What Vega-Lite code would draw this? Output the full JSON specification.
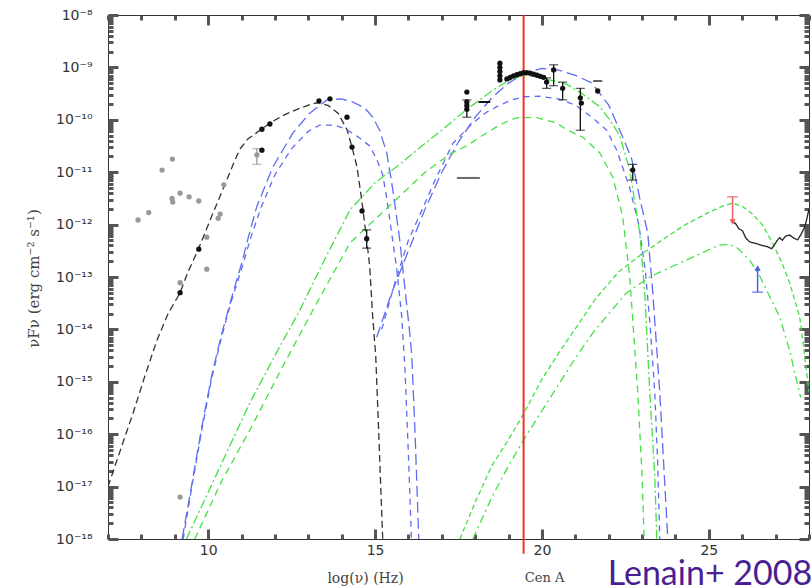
{
  "$schema": "https://vega.github.io/schema/vega-lite/v6.json",
  "width": 701,
  "height": 524,
  "autosize": {"type": "none"},
  "padding": {"left": 108, "top": 15, "right": 2, "bottom": 47},
  "background": "white",
  "config": {
    "view": {"stroke": "#333", "strokeWidth": 1},
    "axis": {"domain": false, "zindex": 1, "labelColor": "#333", "labelFont": "DejaVu Sans", "labelFontSize": 14, "titleFont": "DejaVu Serif", "titleFontWeight": "normal", "titleFontSize": 14, "titleColor": "#444", "grid": false, "labelFlush": false, "labelOverlap": false, "labelBound": false}
  },
  "datasets": {
    "curves": [
      {"c": "black_sync", "x": 7.0, "y": -17.0}, {"c": "black_sync", "x": 7.4, "y": -16.25}, {"c": "black_sync", "x": 7.75, "y": -15.6}, {"c": "black_sync", "x": 8.1, "y": -14.9}, {"c": "black_sync", "x": 8.47, "y": -14.2}, {"c": "black_sync", "x": 8.8, "y": -13.7}, {"c": "black_sync", "x": 9.16, "y": -13.3}, {"c": "black_sync", "x": 9.4, "y": -12.9}, {"c": "black_sync", "x": 9.7, "y": -12.48}, {"c": "black_sync", "x": 10.1, "y": -11.85}, {"c": "black_sync", "x": 10.5, "y": -11.24}, {"c": "black_sync", "x": 10.75, "y": -10.85}, {"c": "black_sync", "x": 10.95, "y": -10.56}, {"c": "black_sync", "x": 11.2, "y": -10.36}, {"c": "black_sync", "x": 11.6, "y": -10.18}, {"c": "black_sync", "x": 11.85, "y": -10.06}, {"c": "black_sync", "x": 12.3, "y": -9.9}, {"c": "black_sync", "x": 12.75, "y": -9.78}, {"c": "black_sync", "x": 13.1, "y": -9.7}, {"c": "black_sync", "x": 13.3, "y": -9.67}, {"c": "black_sync", "x": 13.6, "y": -9.73}, {"c": "black_sync", "x": 13.9, "y": -9.88}, {"c": "black_sync", "x": 14.16, "y": -10.19}, {"c": "black_sync", "x": 14.31, "y": -10.52}, {"c": "black_sync", "x": 14.46, "y": -10.9}, {"c": "black_sync", "x": 14.6, "y": -11.53}, {"c": "black_sync", "x": 14.75, "y": -12.29}, {"c": "black_sync", "x": 14.84, "y": -12.8}, {"c": "black_sync", "x": 14.93, "y": -13.76}, {"c": "black_sync", "x": 15.02, "y": -14.5}, {"c": "black_sync", "x": 15.1, "y": -15.8}, {"c": "black_sync", "x": 15.17, "y": -17.0}, {"c": "black_sync", "x": 15.23, "y": -18.0},

      {"c": "blue_s1", "x": 9.22, "y": -18.0}, {"c": "blue_s1", "x": 9.5, "y": -17.0}, {"c": "blue_s1", "x": 9.8, "y": -15.9}, {"c": "blue_s1", "x": 10.1, "y": -14.9}, {"c": "blue_s1", "x": 10.4, "y": -14.1}, {"c": "blue_s1", "x": 10.7, "y": -13.4}, {"c": "blue_s1", "x": 11.0, "y": -12.75}, {"c": "blue_s1", "x": 11.2, "y": -12.25}, {"c": "blue_s1", "x": 11.46, "y": -11.65}, {"c": "blue_s1", "x": 11.94, "y": -10.9}, {"c": "blue_s1", "x": 12.54, "y": -10.25}, {"c": "blue_s1", "x": 13.05, "y": -9.87}, {"c": "blue_s1", "x": 13.56, "y": -9.62}, {"c": "blue_s1", "x": 14.0, "y": -9.6}, {"c": "blue_s1", "x": 14.34, "y": -9.66}, {"c": "blue_s1", "x": 14.7, "y": -9.78}, {"c": "blue_s1", "x": 14.93, "y": -9.95}, {"c": "blue_s1", "x": 15.14, "y": -10.2}, {"c": "blue_s1", "x": 15.35, "y": -10.63}, {"c": "blue_s1", "x": 15.5, "y": -11.2}, {"c": "blue_s1", "x": 15.59, "y": -11.6}, {"c": "blue_s1", "x": 15.74, "y": -12.29}, {"c": "blue_s1", "x": 15.89, "y": -13.19}, {"c": "blue_s1", "x": 16.04, "y": -14.07}, {"c": "blue_s1", "x": 16.1, "y": -14.5}, {"c": "blue_s1", "x": 16.2, "y": -16.0}, {"c": "blue_s1", "x": 16.31, "y": -18.0},

      {"c": "blue_s2", "x": 9.25, "y": -18.0}, {"c": "blue_s2", "x": 9.5, "y": -17.05}, {"c": "blue_s2", "x": 9.8, "y": -15.95}, {"c": "blue_s2", "x": 10.1, "y": -14.95}, {"c": "blue_s2", "x": 10.4, "y": -14.15}, {"c": "blue_s2", "x": 10.7, "y": -13.45}, {"c": "blue_s2", "x": 11.0, "y": -12.85}, {"c": "blue_s2", "x": 11.3, "y": -12.2}, {"c": "blue_s2", "x": 11.6, "y": -11.65}, {"c": "blue_s2", "x": 12.0, "y": -11.05}, {"c": "blue_s2", "x": 12.5, "y": -10.55}, {"c": "blue_s2", "x": 13.0, "y": -10.22}, {"c": "blue_s2", "x": 13.35, "y": -10.1}, {"c": "blue_s2", "x": 13.8, "y": -10.1}, {"c": "blue_s2", "x": 14.16, "y": -10.19}, {"c": "blue_s2", "x": 14.5, "y": -10.33}, {"c": "blue_s2", "x": 14.84, "y": -10.5}, {"c": "blue_s2", "x": 15.05, "y": -10.75}, {"c": "blue_s2", "x": 15.23, "y": -11.05}, {"c": "blue_s2", "x": 15.35, "y": -11.5}, {"c": "blue_s2", "x": 15.44, "y": -11.9}, {"c": "blue_s2", "x": 15.55, "y": -12.4}, {"c": "blue_s2", "x": 15.65, "y": -12.85}, {"c": "blue_s2", "x": 15.8, "y": -13.76}, {"c": "blue_s2", "x": 15.9, "y": -14.8}, {"c": "blue_s2", "x": 16.0, "y": -16.4}, {"c": "blue_s2", "x": 16.09, "y": -18.0},

      {"c": "blue_ic1", "x": 15.05, "y": -14.15}, {"c": "blue_ic1", "x": 15.5, "y": -13.3}, {"c": "blue_ic1", "x": 16.0, "y": -12.5}, {"c": "blue_ic1", "x": 16.5, "y": -11.7}, {"c": "blue_ic1", "x": 17.0, "y": -11.0}, {"c": "blue_ic1", "x": 17.5, "y": -10.42}, {"c": "blue_ic1", "x": 18.0, "y": -9.95}, {"c": "blue_ic1", "x": 18.5, "y": -9.58}, {"c": "blue_ic1", "x": 19.0, "y": -9.3}, {"c": "blue_ic1", "x": 19.5, "y": -9.1}, {"c": "blue_ic1", "x": 20.0, "y": -9.02}, {"c": "blue_ic1", "x": 20.5, "y": -9.05}, {"c": "blue_ic1", "x": 21.0, "y": -9.15}, {"c": "blue_ic1", "x": 21.5, "y": -9.3}, {"c": "blue_ic1", "x": 22.0, "y": -9.72}, {"c": "blue_ic1", "x": 22.4, "y": -10.3}, {"c": "blue_ic1", "x": 22.69, "y": -10.75}, {"c": "blue_ic1", "x": 22.93, "y": -11.5}, {"c": "blue_ic1", "x": 23.17, "y": -12.16}, {"c": "blue_ic1", "x": 23.32, "y": -13.3}, {"c": "blue_ic1", "x": 23.53, "y": -15.2}, {"c": "blue_ic1", "x": 23.65, "y": -16.6}, {"c": "blue_ic1", "x": 23.77, "y": -18.0},

      {"c": "blue_ic2", "x": 15.2, "y": -14.0}, {"c": "blue_ic2", "x": 15.6, "y": -13.1}, {"c": "blue_ic2", "x": 16.0, "y": -12.3}, {"c": "blue_ic2", "x": 16.35, "y": -11.8}, {"c": "blue_ic2", "x": 16.8, "y": -11.15}, {"c": "blue_ic2", "x": 17.33, "y": -10.45}, {"c": "blue_ic2", "x": 17.93, "y": -10.06}, {"c": "blue_ic2", "x": 18.35, "y": -9.85}, {"c": "blue_ic2", "x": 18.74, "y": -9.72}, {"c": "blue_ic2", "x": 19.1, "y": -9.62}, {"c": "blue_ic2", "x": 19.45, "y": -9.56}, {"c": "blue_ic2", "x": 19.9, "y": -9.55}, {"c": "blue_ic2", "x": 20.5, "y": -9.6}, {"c": "blue_ic2", "x": 21.0, "y": -9.72}, {"c": "blue_ic2", "x": 21.5, "y": -9.95}, {"c": "blue_ic2", "x": 21.94, "y": -10.2}, {"c": "blue_ic2", "x": 22.24, "y": -10.58}, {"c": "blue_ic2", "x": 22.63, "y": -11.3}, {"c": "blue_ic2", "x": 22.9, "y": -12.0}, {"c": "blue_ic2", "x": 23.1, "y": -12.9}, {"c": "blue_ic2", "x": 23.25, "y": -14.0}, {"c": "blue_ic2", "x": 23.38, "y": -15.2}, {"c": "blue_ic2", "x": 23.47, "y": -16.6}, {"c": "blue_ic2", "x": 23.53, "y": -18.0},

      {"c": "green_1", "x": 9.35, "y": -18.0}, {"c": "green_1", "x": 10.3, "y": -16.7}, {"c": "green_1", "x": 11.25, "y": -15.4}, {"c": "green_1", "x": 12.0, "y": -14.5}, {"c": "green_1", "x": 12.75, "y": -13.63}, {"c": "green_1", "x": 13.5, "y": -12.65}, {"c": "green_1", "x": 14.25, "y": -11.72}, {"c": "green_1", "x": 15.0, "y": -11.2}, {"c": "green_1", "x": 15.74, "y": -10.85}, {"c": "green_1", "x": 16.4, "y": -10.5}, {"c": "green_1", "x": 17.0, "y": -10.2}, {"c": "green_1", "x": 17.75, "y": -9.8}, {"c": "green_1", "x": 18.5, "y": -9.45}, {"c": "green_1", "x": 19.0, "y": -9.25}, {"c": "green_1", "x": 19.43, "y": -9.15}, {"c": "green_1", "x": 19.9, "y": -9.18}, {"c": "green_1", "x": 20.23, "y": -9.24}, {"c": "green_1", "x": 20.74, "y": -9.32}, {"c": "green_1", "x": 21.2, "y": -9.5}, {"c": "green_1", "x": 21.73, "y": -9.75}, {"c": "green_1", "x": 22.03, "y": -10.0}, {"c": "green_1", "x": 22.33, "y": -10.3}, {"c": "green_1", "x": 22.63, "y": -10.96}, {"c": "green_1", "x": 22.93, "y": -12.16}, {"c": "green_1", "x": 23.08, "y": -13.3}, {"c": "green_1", "x": 23.23, "y": -15.2}, {"c": "green_1", "x": 23.38, "y": -16.8}, {"c": "green_1", "x": 23.44, "y": -18.0},

      {"c": "green_2", "x": 9.6, "y": -18.0}, {"c": "green_2", "x": 10.4, "y": -16.9}, {"c": "green_2", "x": 11.25, "y": -15.92}, {"c": "green_2", "x": 12.2, "y": -14.75}, {"c": "green_2", "x": 13.14, "y": -13.63}, {"c": "green_2", "x": 14.25, "y": -12.35}, {"c": "green_2", "x": 15.0, "y": -11.9}, {"c": "green_2", "x": 15.75, "y": -11.45}, {"c": "green_2", "x": 16.5, "y": -11.0}, {"c": "green_2", "x": 17.25, "y": -10.65}, {"c": "green_2", "x": 17.74, "y": -10.5}, {"c": "green_2", "x": 18.14, "y": -10.33}, {"c": "green_2", "x": 18.6, "y": -10.15}, {"c": "green_2", "x": 19.04, "y": -10.0}, {"c": "green_2", "x": 19.3, "y": -9.96}, {"c": "green_2", "x": 19.84, "y": -9.96}, {"c": "green_2", "x": 20.44, "y": -10.06}, {"c": "green_2", "x": 20.74, "y": -10.19}, {"c": "green_2", "x": 21.22, "y": -10.33}, {"c": "green_2", "x": 21.73, "y": -10.63}, {"c": "green_2", "x": 22.12, "y": -11.09}, {"c": "green_2", "x": 22.42, "y": -11.85}, {"c": "green_2", "x": 22.63, "y": -13.0}, {"c": "green_2", "x": 22.87, "y": -15.2}, {"c": "green_2", "x": 23.0, "y": -16.8}, {"c": "green_2", "x": 23.06, "y": -18.0},

      {"c": "green_3", "x": 17.54, "y": -18.0}, {"c": "green_3", "x": 18.0, "y": -17.3}, {"c": "green_3", "x": 18.5, "y": -16.6}, {"c": "green_3", "x": 19.0, "y": -16.1}, {"c": "green_3", "x": 19.46, "y": -15.6}, {"c": "green_3", "x": 20.0, "y": -14.95}, {"c": "green_3", "x": 20.53, "y": -14.42}, {"c": "green_3", "x": 21.04, "y": -13.95}, {"c": "green_3", "x": 21.6, "y": -13.42}, {"c": "green_3", "x": 22.3, "y": -12.9}, {"c": "green_3", "x": 23.02, "y": -12.55}, {"c": "green_3", "x": 23.7, "y": -12.25}, {"c": "green_3", "x": 24.3, "y": -12.0}, {"c": "green_3", "x": 25.02, "y": -11.76}, {"c": "green_3", "x": 25.4, "y": -11.65}, {"c": "green_3", "x": 25.71, "y": -11.59}, {"c": "green_3", "x": 26.0, "y": -11.65}, {"c": "green_3", "x": 26.31, "y": -11.8}, {"c": "green_3", "x": 26.6, "y": -12.0}, {"c": "green_3", "x": 26.91, "y": -12.35}, {"c": "green_3", "x": 27.2, "y": -12.75}, {"c": "green_3", "x": 27.42, "y": -13.11}, {"c": "green_3", "x": 27.72, "y": -13.76}, {"c": "green_3", "x": 27.85, "y": -14.4}, {"c": "green_3", "x": 28.0, "y": -15.2},

      {"c": "green_4", "x": 17.93, "y": -18.0}, {"c": "green_4", "x": 18.5, "y": -17.2}, {"c": "green_4", "x": 19.0, "y": -16.6}, {"c": "green_4", "x": 19.46, "y": -16.1}, {"c": "green_4", "x": 20.0, "y": -15.55}, {"c": "green_4", "x": 20.53, "y": -15.02}, {"c": "green_4", "x": 21.0, "y": -14.55}, {"c": "green_4", "x": 21.52, "y": -14.07}, {"c": "green_4", "x": 22.0, "y": -13.7}, {"c": "green_4", "x": 22.54, "y": -13.3}, {"c": "green_4", "x": 23.23, "y": -13.0}, {"c": "green_4", "x": 23.9, "y": -12.8}, {"c": "green_4", "x": 24.52, "y": -12.62}, {"c": "green_4", "x": 25.0, "y": -12.48}, {"c": "green_4", "x": 25.32, "y": -12.39}, {"c": "green_4", "x": 25.6, "y": -12.38}, {"c": "green_4", "x": 25.83, "y": -12.43}, {"c": "green_4", "x": 26.22, "y": -12.68}, {"c": "green_4", "x": 26.5, "y": -12.95}, {"c": "green_4", "x": 26.73, "y": -13.25}, {"c": "green_4", "x": 27.12, "y": -13.76}, {"c": "green_4", "x": 27.42, "y": -14.4}, {"c": "green_4", "x": 27.6, "y": -14.9}, {"c": "green_4", "x": 27.75, "y": -15.3},

      {"c": "black_cta", "x": 25.71, "y": -11.95}, {"c": "black_cta", "x": 25.8, "y": -11.98}, {"c": "black_cta", "x": 25.9, "y": -12.08}, {"c": "black_cta", "x": 26.01, "y": -12.12}, {"c": "black_cta", "x": 26.1, "y": -12.25}, {"c": "black_cta", "x": 26.22, "y": -12.33}, {"c": "black_cta", "x": 26.4, "y": -12.36}, {"c": "black_cta", "x": 26.61, "y": -12.4}, {"c": "black_cta", "x": 26.75, "y": -12.42}, {"c": "black_cta", "x": 26.88, "y": -12.46}, {"c": "black_cta", "x": 26.95, "y": -12.4}, {"c": "black_cta", "x": 27.05, "y": -12.3}, {"c": "black_cta", "x": 27.12, "y": -12.25}, {"c": "black_cta", "x": 27.2, "y": -12.3}, {"c": "black_cta", "x": 27.3, "y": -12.22}, {"c": "black_cta", "x": 27.42, "y": -12.2}, {"c": "black_cta", "x": 27.55, "y": -12.26}, {"c": "black_cta", "x": 27.66, "y": -12.29}, {"c": "black_cta", "x": 27.75, "y": -12.2}, {"c": "black_cta", "x": 27.87, "y": -12.05}, {"c": "black_cta", "x": 27.95, "y": -11.85}, {"c": "black_cta", "x": 28.0, "y": -11.7}
    ],
    "pts": [
      {"k": "gray", "x": 7.9, "y": -11.91}, {"k": "gray", "x": 8.22, "y": -11.77}, {"k": "gray", "x": 8.62, "y": -10.96}, {"k": "gray", "x": 8.93, "y": -10.75}, {"k": "gray", "x": 8.92, "y": -11.5}, {"k": "gray", "x": 8.94, "y": -11.57}, {"k": "gray", "x": 9.16, "y": -11.4}, {"k": "gray", "x": 9.43, "y": -11.47}, {"k": "gray", "x": 9.72, "y": -11.55}, {"k": "gray", "x": 10.47, "y": -11.24}, {"k": "gray", "x": 10.3, "y": -11.88}, {"k": "gray", "x": 10.36, "y": -11.8}, {"k": "gray", "x": 9.96, "y": -12.24}, {"k": "gray", "x": 9.96, "y": -12.85}, {"k": "gray", "x": 9.16, "y": -13.11}, {"k": "gray", "x": 9.16, "y": -17.2}, {"k": "gray", "x": 11.46, "y": -10.67},
      {"k": "black", "x": 9.16, "y": -13.3}, {"k": "black", "x": 9.72, "y": -12.47}, {"k": "black", "x": 11.61, "y": -10.18}, {"k": "black", "x": 11.85, "y": -10.08}, {"k": "black", "x": 11.61, "y": -10.58}, {"k": "black", "x": 13.32, "y": -9.64}, {"k": "black", "x": 13.65, "y": -9.6}, {"k": "black", "x": 14.16, "y": -9.95}, {"k": "black", "x": 14.31, "y": -10.52}, {"k": "black", "x": 14.61, "y": -11.74}, {"k": "black", "x": 14.75, "y": -12.27},
      {"k": "black", "x": 17.75, "y": -9.47}, {"k": "black", "x": 17.75, "y": -9.66}, {"k": "black", "x": 17.75, "y": -9.73}, {"k": "black", "x": 17.75, "y": -9.8},
      {"k": "black", "x": 18.74, "y": -8.92}, {"k": "black", "x": 18.74, "y": -9.0}, {"k": "black", "x": 18.74, "y": -9.08}, {"k": "black", "x": 18.74, "y": -9.16}, {"k": "black", "x": 18.74, "y": -9.24},
      {"k": "black", "x": 18.95, "y": -9.22}, {"k": "black", "x": 19.05, "y": -9.19}, {"k": "black", "x": 19.15, "y": -9.16}, {"k": "black", "x": 19.25, "y": -9.14}, {"k": "black", "x": 19.35, "y": -9.12}, {"k": "black", "x": 19.45, "y": -9.1}, {"k": "black", "x": 19.55, "y": -9.1}, {"k": "black", "x": 19.65, "y": -9.11}, {"k": "black", "x": 19.75, "y": -9.13}, {"k": "black", "x": 19.85, "y": -9.15}, {"k": "black", "x": 19.95, "y": -9.17}, {"k": "black", "x": 20.05, "y": -9.19},
      {"k": "black", "x": 20.14, "y": -9.28}, {"k": "black", "x": 20.35, "y": -9.05}, {"k": "black", "x": 20.62, "y": -9.4}, {"k": "black", "x": 21.15, "y": -9.58}, {"k": "black", "x": 21.18, "y": -9.68}, {"k": "black", "x": 21.67, "y": -9.45}, {"k": "black", "x": 22.72, "y": -10.96}
    ],
    "err": [
      {"k": "gray", "x": 11.46, "y": -10.55, "y2": -10.85},
      {"k": "black", "x": 14.75, "y": -12.1, "y2": -12.45},
      {"k": "black", "x": 17.75, "y": -9.62, "y2": -9.95},
      {"k": "black", "x": 20.14, "y": -9.2, "y2": -9.4},
      {"k": "black", "x": 20.35, "y": -8.95, "y2": -9.35},
      {"k": "black", "x": 20.62, "y": -9.28, "y2": -9.62},
      {"k": "black", "x": 21.15, "y": -9.4, "y2": -10.2},
      {"k": "black", "x": 21.67, "y": -9.26, "y2": -9.26},
      {"k": "black", "x": 22.72, "y": -10.85, "y2": -11.15}
    ],
    "hbar": [
      {"k": "gray", "x": 17.45, "x2": 18.14, "y": -11.11},
      {"k": "black", "x": 18.1, "x2": 18.45, "y": -9.66}
    ],
    "vline": [{"x": 19.45, "y": -8.0, "y2": -18.28}],
    "lims": [
      {"k": "upper", "x": 25.71, "y": -11.47, "y2": -11.95},
      {"k": "lower", "x": 26.46, "y": -13.29, "y2": -12.83}
    ],
    "notes": [
      {"t": "Cen A", "x": 20.08, "y": -18.74}
    ],
    "credit": [
      {"t": "Lenain+ 2008", "x": 21.97, "y": -18.88}
    ]
  },
  "resolve": {"axis": {"x": "independent", "y": "independent"}, "scale": {"color": "independent", "shape": "independent", "strokeDash": "independent"}},
  "layer": [
    {
      "data": {"name": "curves"},
      "mark": {"type": "line", "strokeWidth": 1.3, "clip": true, "strokeCap": "butt"},
      "encoding": {
        "x": {"field": "x", "type": "quantitative", "scale": {"domain": [7, 28], "nice": false, "zero": false},
          "axis": {"orient": "bottom", "values": [10, 15, 20, 25], "offset": -10, "ticks": true, "tickSize": 10, "tickColor": "#555555", "tickWidth": 3, "tickOpacity": 1, "labelPadding": 4,
            "title": "log(ν) (Hz)", "titleX": 257, "titleY": 49, "titleAlign": "center", "titleBaseline": "middle", "titleFontSize": 14}},
        "y": {"field": "y", "type": "quantitative", "scale": {"domain": [-18, -8], "nice": false, "zero": false},
          "axis": {"orient": "left", "values": [-18,-17,-16,-15,-14,-13,-12,-11,-10,-9,-8], "offset": -10, "ticks": true, "tickSize": 10, "tickColor": "#555555", "tickWidth": 3, "tickOpacity": 1, "labelPadding": 16,
            "labelExpr": "datum.value == -8 ? '10⁻⁸' : datum.value == -9 ? '10⁻⁹' : datum.value == -10 ? '10⁻¹⁰' : datum.value == -11 ? '10⁻¹¹' : datum.value == -12 ? '10⁻¹²' : datum.value == -13 ? '10⁻¹³' : datum.value == -14 ? '10⁻¹⁴' : datum.value == -15 ? '10⁻¹⁵' : datum.value == -16 ? '10⁻¹⁶' : datum.value == -17 ? '10⁻¹⁷' : '10⁻¹⁸'",
            "title": "νFν (erg cm⁻² s⁻¹)", "titleX": -85, "titleY": 263, "titleAlign": "center", "titleBaseline": "middle", "titleFontSize": 15}},
        "color": {"field": "c", "type": "nominal", "legend": null,
          "scale": {"domain": ["black_sync","blue_s1","blue_s2","blue_ic1","blue_ic2","green_1","green_2","green_3","green_4","black_cta"],
                    "range": ["#333333","#5d6cf2","#5d6cf2","#5d6cf2","#5d6cf2","#44e044","#44e044","#44e044","#44e044","#222222"]}},
        "strokeDash": {"field": "c", "type": "nominal", "legend": null,
          "scale": {"domain": ["black_sync","blue_s1","blue_s2","blue_ic1","blue_ic2","green_1","green_2","green_3","green_4","black_cta"],
                    "range": [[7,4],[11,5],[6,5],[11,5],[6,5],[9,3,2,3],[7,5],[5,3],[8,4,2,4],[1,0]]}},
        "detail": {"field": "c"}
      }
    },
    {
      "data": {"name": "vline"},
      "mark": {"type": "rule", "color": "#ee3322", "strokeWidth": 2},
      "encoding": {
        "x": {"field": "x", "type": "quantitative", "scale": {"domain": [7, 28], "nice": false, "zero": false},
          "axis": {"orient": "top", "values": [10, 15, 20, 25], "labels": false, "title": null, "offset": -10, "ticks": true, "tickSize": 10, "tickColor": "#555555", "tickWidth": 3, "tickOpacity": 1}},
        "y": {"field": "y", "type": "quantitative", "scale": {"domain": [-18, -8], "nice": false, "zero": false},
          "axis": {"orient": "right", "values": [-18,-17,-16,-15,-14,-13,-12,-11,-10,-9,-8], "labels": false, "title": null, "offset": -10, "ticks": true, "tickSize": 10, "tickColor": "#555555", "tickWidth": 3, "tickOpacity": 1}},
        "y2": {"field": "y2"}
      }
    },
    {
      "data": {"name": "vline"},
      "mark": {"type": "rule", "color": "#ffffff", "strokeWidth": 0},
      "encoding": {
        "x": {"field": "x", "type": "quantitative", "scale": {"domain": [7, 28], "nice": false, "zero": false},
          "axis": {"orient": "bottom", "values": [7,8,9,11,12,13,14,16,17,18,19,21,22,23,24,26,27,28], "labels": false, "title": null, "offset": -5, "ticks": true, "tickSize": 5, "tickColor": "#555555", "tickWidth": 3, "tickOpacity": 1}},
        "y": {"field": "y", "type": "quantitative", "scale": {"domain": [-18, -8], "nice": false, "zero": false},
          "axis": {"orient": "left", "labels": false, "title": null, "offset": -5, "ticks": true, "tickSize": 5, "tickColor": "#555555", "tickWidth": 3, "tickOpacity": 1,
            "values": [-17.69897,-17.52288,-17.39794,-17.30103,-17.22185,-17.1549,-17.09691,-17.04576,-16.69897,-16.52288,-16.39794,-16.30103,-16.22185,-16.1549,-16.09691,-16.04576,-15.69897,-15.52288,-15.39794,-15.30103,-15.22185,-15.1549,-15.09691,-15.04576,-14.69897,-14.52288,-14.39794,-14.30103,-14.22185,-14.1549,-14.09691,-14.04576,-13.69897,-13.52288,-13.39794,-13.30103,-13.22185,-13.1549,-13.09691,-13.04576,-12.69897,-12.52288,-12.39794,-12.30103,-12.22185,-12.1549,-12.09691,-12.04576,-11.69897,-11.52288,-11.39794,-11.30103,-11.22185,-11.1549,-11.09691,-11.04576,-10.69897,-10.52288,-10.39794,-10.30103,-10.22185,-10.1549,-10.09691,-10.04576,-9.69897,-9.52288,-9.39794,-9.30103,-9.22185,-9.1549,-9.09691,-9.04576,-8.69897,-8.52288,-8.39794,-8.30103,-8.22185,-8.1549,-8.09691,-8.04576]}},
        "y2": {"field": "y2"}
      }
    },
    {
      "data": {"name": "vline"},
      "mark": {"type": "rule", "color": "#ffffff", "strokeWidth": 0},
      "encoding": {
        "x": {"field": "x", "type": "quantitative", "scale": {"domain": [7, 28], "nice": false, "zero": false},
          "axis": {"orient": "top", "values": [7,8,9,11,12,13,14,16,17,18,19,21,22,23,24,26,27,28], "labels": false, "title": null, "offset": -5, "ticks": true, "tickSize": 5, "tickColor": "#555555", "tickWidth": 3, "tickOpacity": 1}},
        "y": {"field": "y", "type": "quantitative", "scale": {"domain": [-18, -8], "nice": false, "zero": false},
          "axis": {"orient": "right", "labels": false, "title": null, "offset": -5, "ticks": true, "tickSize": 5, "tickColor": "#555555", "tickWidth": 3, "tickOpacity": 1,
            "values": [-17.69897,-17.52288,-17.39794,-17.30103,-17.22185,-17.1549,-17.09691,-17.04576,-16.69897,-16.52288,-16.39794,-16.30103,-16.22185,-16.1549,-16.09691,-16.04576,-15.69897,-15.52288,-15.39794,-15.30103,-15.22185,-15.1549,-15.09691,-15.04576,-14.69897,-14.52288,-14.39794,-14.30103,-14.22185,-14.1549,-14.09691,-14.04576,-13.69897,-13.52288,-13.39794,-13.30103,-13.22185,-13.1549,-13.09691,-13.04576,-12.69897,-12.52288,-12.39794,-12.30103,-12.22185,-12.1549,-12.09691,-12.04576,-11.69897,-11.52288,-11.39794,-11.30103,-11.22185,-11.1549,-11.09691,-11.04576,-10.69897,-10.52288,-10.39794,-10.30103,-10.22185,-10.1549,-10.09691,-10.04576,-9.69897,-9.52288,-9.39794,-9.30103,-9.22185,-9.1549,-9.09691,-9.04576,-8.69897,-8.52288,-8.39794,-8.30103,-8.22185,-8.1549,-8.09691,-8.04576]}},
        "y2": {"field": "y2"}
      }
    },
    {
      "data": {"name": "err"},
      "mark": {"type": "rule", "strokeWidth": 1.3},
      "encoding": {
        "x": {"field": "x", "type": "quantitative", "axis": null},
        "y": {"field": "y", "type": "quantitative", "axis": null},
        "y2": {"field": "y2"},
        "color": {"field": "k", "type": "nominal", "legend": null, "scale": {"domain": ["black", "gray"], "range": ["#111111", "#999999"]}}
      }
    },
    {
      "data": {"name": "err"},
      "mark": {"type": "tick", "orient": "horizontal", "size": 9, "thickness": 1.2},
      "encoding": {
        "x": {"field": "x", "type": "quantitative", "axis": null},
        "y": {"field": "y", "type": "quantitative", "axis": null},
        "color": {"field": "k", "type": "nominal", "legend": null, "scale": {"domain": ["black", "gray"], "range": ["#111111", "#999999"]}}
      }
    },
    {
      "data": {"name": "err"},
      "mark": {"type": "tick", "orient": "horizontal", "size": 9, "thickness": 1.2},
      "encoding": {
        "x": {"field": "x", "type": "quantitative", "axis": null},
        "y": {"field": "y2", "type": "quantitative", "axis": null},
        "color": {"field": "k", "type": "nominal", "legend": null, "scale": {"domain": ["black", "gray"], "range": ["#111111", "#999999"]}}
      }
    },
    {
      "data": {"name": "pts"},
      "mark": {"type": "point", "filled": true, "shape": "circle", "size": 28, "opacity": 1},
      "encoding": {
        "x": {"field": "x", "type": "quantitative", "axis": null},
        "y": {"field": "y", "type": "quantitative", "axis": null},
        "color": {"field": "k", "type": "nominal", "legend": null, "scale": {"domain": ["black", "gray"], "range": ["#111111", "#999999"]}}
      }
    },
    {
      "data": {"name": "hbar"},
      "mark": {"type": "rule", "strokeWidth": 2},
      "encoding": {
        "x": {"field": "x", "type": "quantitative", "axis": null},
        "x2": {"field": "x2"},
        "y": {"field": "y", "type": "quantitative", "axis": null},
        "color": {"field": "k", "type": "nominal", "legend": null, "scale": {"domain": ["black", "gray"], "range": ["#111111", "#6a6a6a"]}}
      }
    },
    {
      "data": {"name": "lims"},
      "mark": {"type": "rule", "strokeWidth": 1.5},
      "encoding": {
        "x": {"field": "x", "type": "quantitative", "axis": null},
        "y": {"field": "y", "type": "quantitative", "axis": null},
        "y2": {"field": "y2"},
        "color": {"field": "k", "type": "nominal", "legend": null, "scale": {"domain": ["upper", "lower"], "range": ["#f06060", "#4a5ee8"]}}
      }
    },
    {
      "data": {"name": "lims"},
      "mark": {"type": "tick", "orient": "horizontal", "size": 11, "thickness": 1.5},
      "encoding": {
        "x": {"field": "x", "type": "quantitative", "axis": null},
        "y": {"field": "y", "type": "quantitative", "axis": null},
        "color": {"field": "k", "type": "nominal", "legend": null, "scale": {"domain": ["upper", "lower"], "range": ["#f06060", "#4a5ee8"]}}
      }
    },
    {
      "data": {"name": "lims"},
      "mark": {"type": "point", "filled": true, "size": 40, "opacity": 1},
      "encoding": {
        "x": {"field": "x", "type": "quantitative", "axis": null},
        "y": {"field": "y2", "type": "quantitative", "axis": null},
        "shape": {"field": "k", "type": "nominal", "legend": null, "scale": {"domain": ["upper", "lower"], "range": ["triangle-down", "triangle-up"]}},
        "color": {"field": "k", "type": "nominal", "legend": null, "scale": {"domain": ["upper", "lower"], "range": ["#f06060", "#4a5ee8"]}}
      }
    },
    {
      "data": {"name": "notes"},
      "mark": {"type": "text", "font": "DejaVu Serif", "fontSize": 13, "color": "#444", "align": "center", "baseline": "middle"},
      "encoding": {
        "x": {"field": "x", "type": "quantitative", "axis": null},
        "y": {"field": "y", "type": "quantitative", "axis": null},
        "text": {"field": "t"}
      }
    },
    {
      "data": {"name": "credit"},
      "mark": {"type": "text", "font": "Lato", "fontSize": 34, "color": "#4b1f94", "align": "left", "baseline": "alphabetic"},
      "encoding": {
        "x": {"field": "x", "type": "quantitative", "axis": null},
        "y": {"field": "y", "type": "quantitative", "axis": null},
        "text": {"field": "t"}
      }
    }
  ]
}
